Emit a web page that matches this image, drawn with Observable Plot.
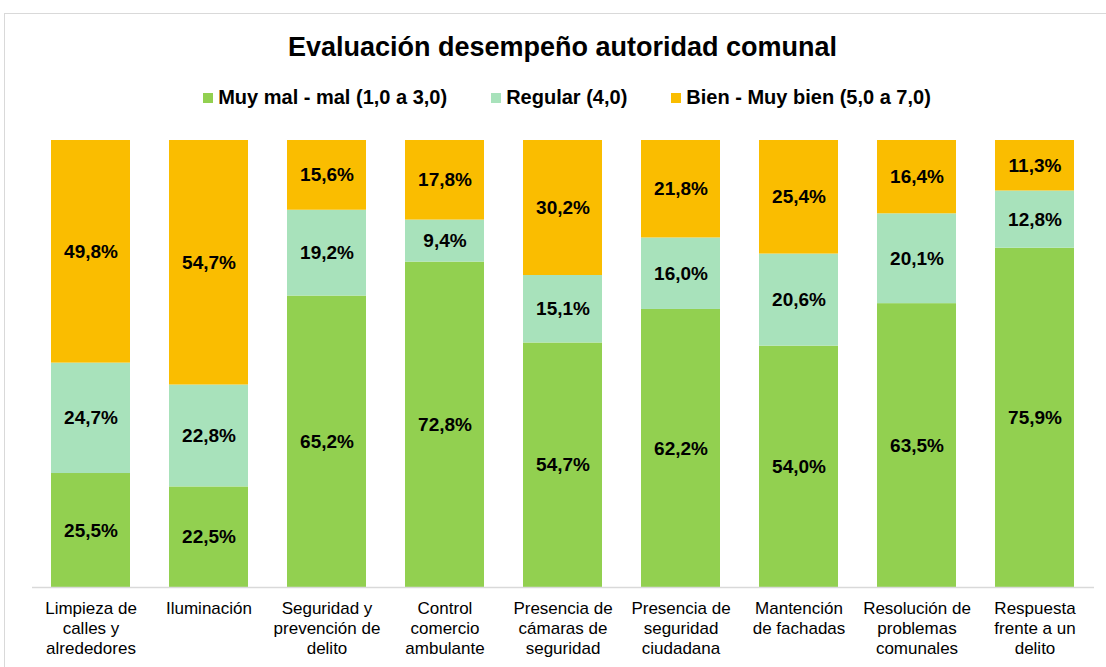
<!DOCTYPE html>
<html>
<head>
<meta charset="utf-8">
<script src="https://cdn.jsdelivr.net/npm/d3@7"></script>
<script src="https://cdn.jsdelivr.net/npm/@observablehq/plot@0.6"></script>
<style>
  html, body { margin: 0; padding: 0; background: #fff; overflow: hidden; }
  body { width: 1106px; height: 667px; position: relative; font-family: "Liberation Sans", Arial, sans-serif; color: #000; }
  #frame { position: absolute; left: 4px; top: 13px; width: 1140px; height: 700px; border: 1px solid #d9d9d9; box-sizing: border-box; }
  #title { position: absolute; left: 0; top: 32px; width: 1125px; text-align: center; font-size: 27px; font-weight: bold; line-height: 30px; white-space: nowrap; }
  #legend { position: absolute; left: 0; top: 85px; width: 1134px; display: flex; justify-content: center; gap: 44px; font-size: 20px; font-weight: bold; line-height: 24px; white-space: nowrap; }
  #legend .item { display: flex; align-items: center; }
  #legend .sw { width: 10px; height: 10px; margin-right: 5px; margin-top: 2px; }
  #chart { position: absolute; left: 0; top: 120px; }
</style>
</head>
<body>
<div id="frame"></div>
<div id="title"></div>
<div id="legend"></div>
<div id="chart"></div>
<script>
const titleText = "Evaluación desempeño autoridad comunal";
const categories = [
  "Limpieza de\ncalles y\nalrededores",
  "Iluminación",
  "Seguridad y\nprevención de\ndelito",
  "Control\ncomercio\nambulante",
  "Presencia de\ncámaras de\nseguridad",
  "Presencia de\nseguridad\nciudadana",
  "Mantención\nde fachadas",
  "Resolución de\nproblemas\ncomunales",
  "Respuesta\nfrente a un\ndelito"
];
const seriesNames = ["Muy mal - mal (1,0 a 3,0)", "Regular (4,0)", "Bien - Muy bien (5,0 a 7,0)"];
const seriesColors = ["#92D050", "#A8E2BB", "#FABD00"];
const muyMal = [25.5, 22.5, 65.2, 72.8, 54.7, 62.2, 54.0, 63.5, 75.9];
const regular = [24.7, 22.8, 19.2, 9.4, 15.1, 16.0, 20.6, 20.1, 12.8];
const bien = [49.8, 54.7, 15.6, 17.8, 30.2, 21.8, 25.4, 16.4, 11.3];

const seriesValues = [muyMal, regular, bien];
const data = [];
seriesNames.forEach((s, si) => {
  categories.forEach((c, ci) => {
    data.push({category: c, series: s, value: seriesValues[si][ci]});
  });
});

document.getElementById("title").textContent = titleText;
const legend = document.getElementById("legend");
seriesNames.forEach((s, i) => {
  const item = document.createElement("div");
  item.className = "item";
  const sw = document.createElement("span");
  sw.className = "sw";
  sw.style.background = seriesColors[i];
  const t = document.createElement("span");
  t.textContent = s;
  item.appendChild(sw);
  item.appendChild(t);
  legend.appendChild(item);
});

const fmt = v => v.toFixed(1).replace(".", ",") + "%";

const chart = Plot.plot({
  width: 1106,
  height: 547,
  marginTop: 20,
  marginBottom: 80,
  marginLeft: 32,
  marginRight: 12,
  style: {fontFamily: "'Liberation Sans', Arial, sans-serif", color: "#000", background: "transparent"},
  x: {domain: categories, paddingInner: 0.33, paddingOuter: 0.165, label: null},
  y: {domain: [0, 100], axis: null},
  color: {domain: seriesNames, range: seriesColors},
  marks: [
    Plot.barY(data, Plot.stackY({x: "category", y: "value", fill: "series", order: seriesNames})),
    Plot.text(data, Plot.stackY({x: "category", y: "value", z: "series", order: seriesNames, text: d => fmt(d.value), fontSize: 19, fontWeight: "bold", fill: "#000"})),
    Plot.ruleY([0], {stroke: "#d9d9d9", strokeWidth: 1.5}),
    Plot.axisX({tickSize: 0, tickPadding: 12, fontSize: 17, lineHeight: 20/17, label: null, fill: "#000"})
  ]
});
document.getElementById("chart").appendChild(chart);
</script>
</body>
</html>
